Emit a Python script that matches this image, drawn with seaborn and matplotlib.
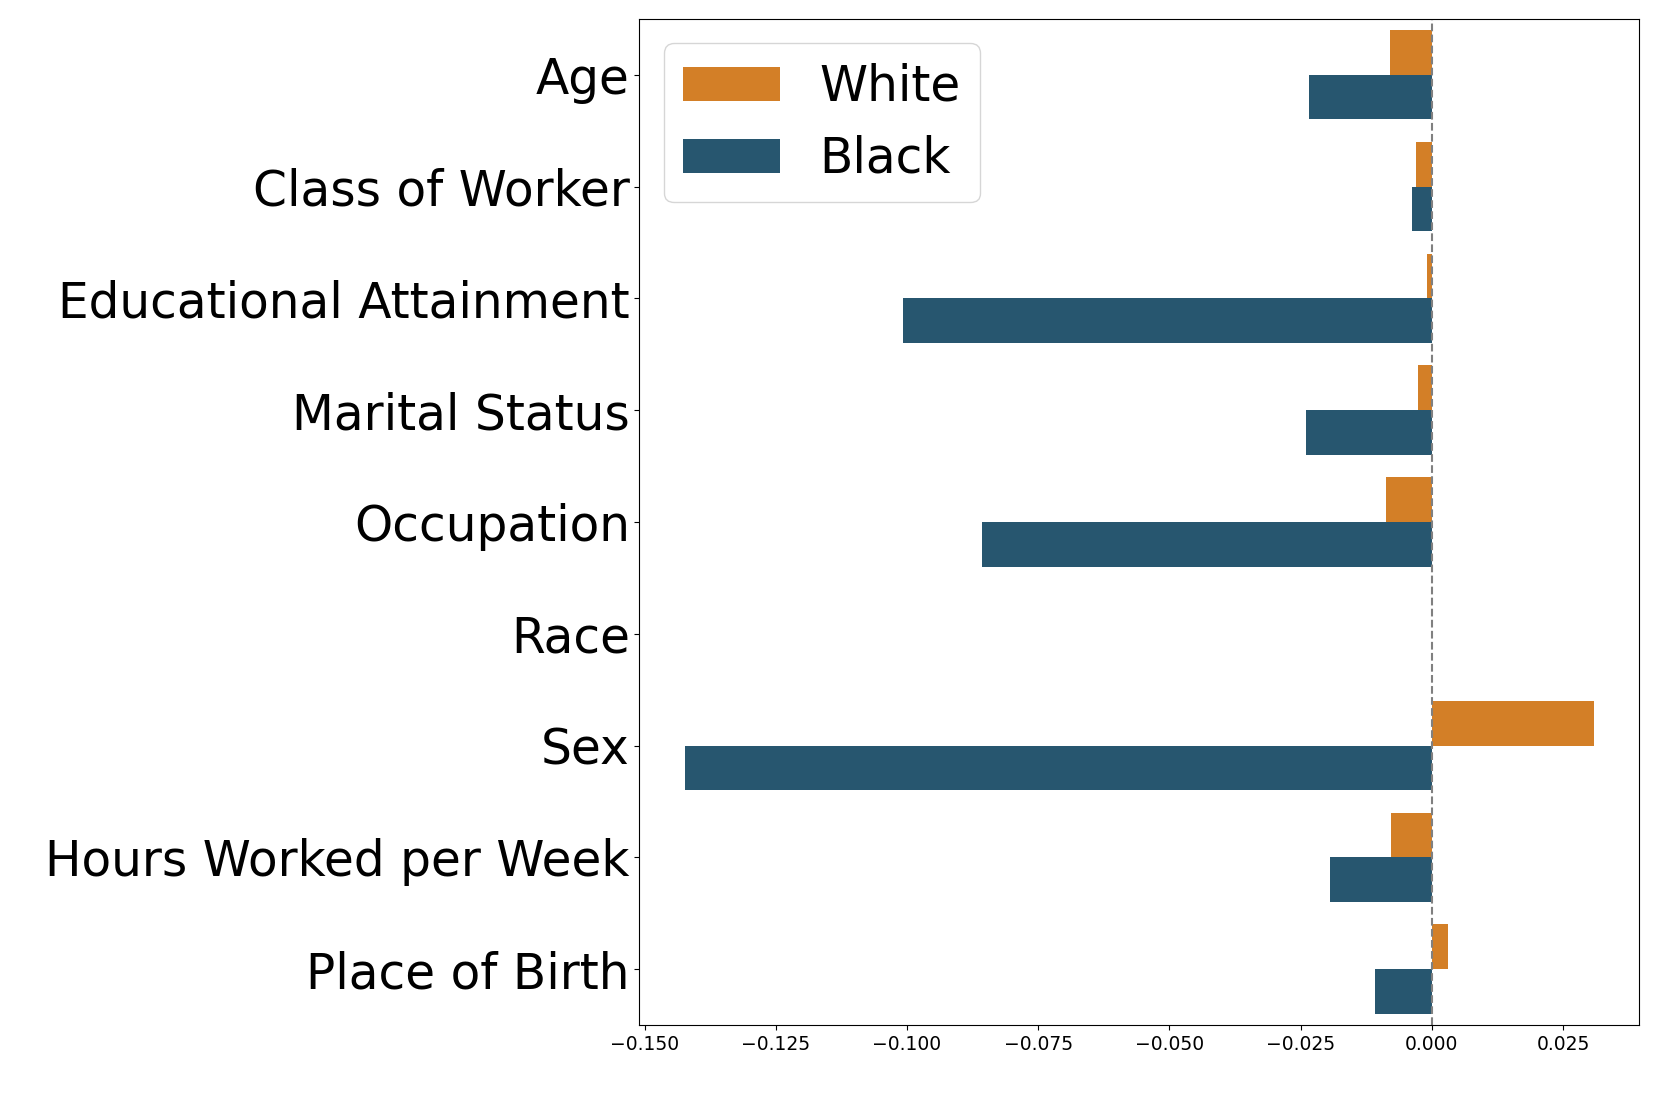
import numpy as np
import pandas as pd
import matplotlib
matplotlib.use("Agg")
import matplotlib.pyplot as plt
import seaborn as sns

features = ["Age", "Class of Worker", "Educational Attainment", "Marital Status",
            "Occupation", "Race", "Sex", "Hours Worked per Week", "Place of Birth"]
white_vals = [-0.0079, -0.0031, -0.0009, -0.0027, -0.0088, 0.0, 0.0309, -0.0077, 0.0030]
black_vals = [-0.0234, -0.0037, -0.1008, -0.0240, -0.0857, 0.0, -0.1423, -0.0193, -0.0109]
groups = ["White", "Black"]
colors = {"White": "#d37f27", "Black": "#27566f"}

df = pd.DataFrame({
    "feature": features * 2,
    "value": white_vals + black_vals,
    "group": ["White"] * len(features) + ["Black"] * len(features),
})

fig = plt.figure(figsize=(16.61, 11.07), dpi=100)
ax = fig.add_axes([0.385, 0.074, 0.602, 0.909])

sns.barplot(data=df, y="feature", x="value", hue="group", hue_order=groups,
            order=features, palette=colors, saturation=1, orient="h", ax=ax, linewidth=0)
ax.axvline(0, color="grey", linestyle="--", linewidth=1.5)

ax.set_xlabel("")
ax.set_ylabel("")
ax.tick_params(axis="y", labelsize=35)
ax.tick_params(axis="x", labelsize=13.5)
ax.legend(loc="upper left", fontsize=35)

fig.savefig("out.png", dpi=100)
